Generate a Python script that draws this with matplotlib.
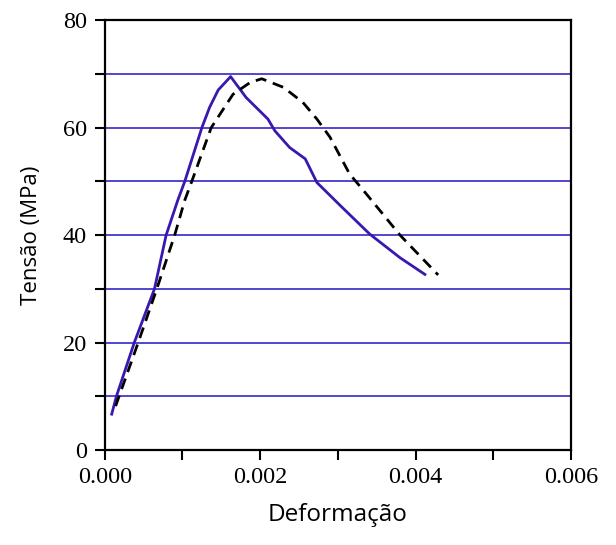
import matplotlib.pyplot as plt
import numpy as np

# curva contínua (experimental)
def_solid = [0.00009, 0.00015, 0.00038, 0.00064, 0.00079, 0.00094, 0.00103, 0.00125,
             0.00135, 0.00146, 0.00162, 0.00182, 0.0021, 0.00219, 0.00238, 0.00258,
             0.00273, 0.00306, 0.00341, 0.0038, 0.00412]
ten_solid = [6.7, 10, 20, 30, 40, 46.5, 50, 60, 63.8, 67, 69.5, 65.6, 61.6, 59.4,
             56.3, 54.2, 49.8, 45.1, 40.2, 35.8, 32.7]

# curva tracejada (modelo)
def_dash = [0.00014, 0.00043, 0.00067, 0.0009, 0.00103, 0.00112, 0.00137, 0.00165,
            0.00187, 0.00202, 0.0023, 0.00255, 0.00273, 0.0029, 0.00315, 0.00337,
            0.00358, 0.0038, 0.00429]
ten_dash = [8.2, 20, 30, 40, 46.5, 50, 60, 66.2, 68.4, 69.1, 67.5, 64.7, 61.6, 58.2,
            51.4, 47.6, 43.9, 40, 32.6]

fig = plt.figure(figsize=(6.16, 5.45), dpi=100)
ax = fig.add_axes([0.170, 0.174, 0.757, 0.789])

for yv in range(10, 80, 10):
    ax.axhline(yv, color='#5046d0', lw=1.4, zorder=1)

ax.plot(def_solid, ten_solid, color='#3a18b0', lw=2.0, zorder=3)
ax.plot(def_dash, ten_dash, color='black', lw=2.0, dashes=(4, 2.5), zorder=3)

ax.set_xlim(0, 0.006)
ax.set_ylim(0, 80)
ax.set_xticks(np.arange(0, 0.0061, 0.001))
ax.set_xticklabels(['0.000', '', '0.002', '', '0.004', '', '0.006'])
ax.set_yticks(range(0, 81, 10))
ax.set_yticklabels(['0', '', '20', '', '40', '', '60', '', '80'])
for lab in ax.get_xticklabels() + ax.get_yticklabels():
    lab.set_family('Liberation Serif')
    lab.set_fontsize(17.5)
ax.tick_params(direction='out', length=7, width=1.5, colors='black')
ax.tick_params(axis='x', pad=5)
ax.tick_params(axis='y', pad=6)
for s in ax.spines.values():
    s.set_linewidth(1.6)

ax.set_xlabel('Deformação', family='Open Sans', fontsize=17.5)
ax.set_ylabel('Tensão (MPa)', family='Open Sans', fontsize=16)
ax.xaxis.set_label_coords(0.5, -0.123)
ax.yaxis.set_label_coords(-0.135, 0.5)

fig.savefig('out.png')
